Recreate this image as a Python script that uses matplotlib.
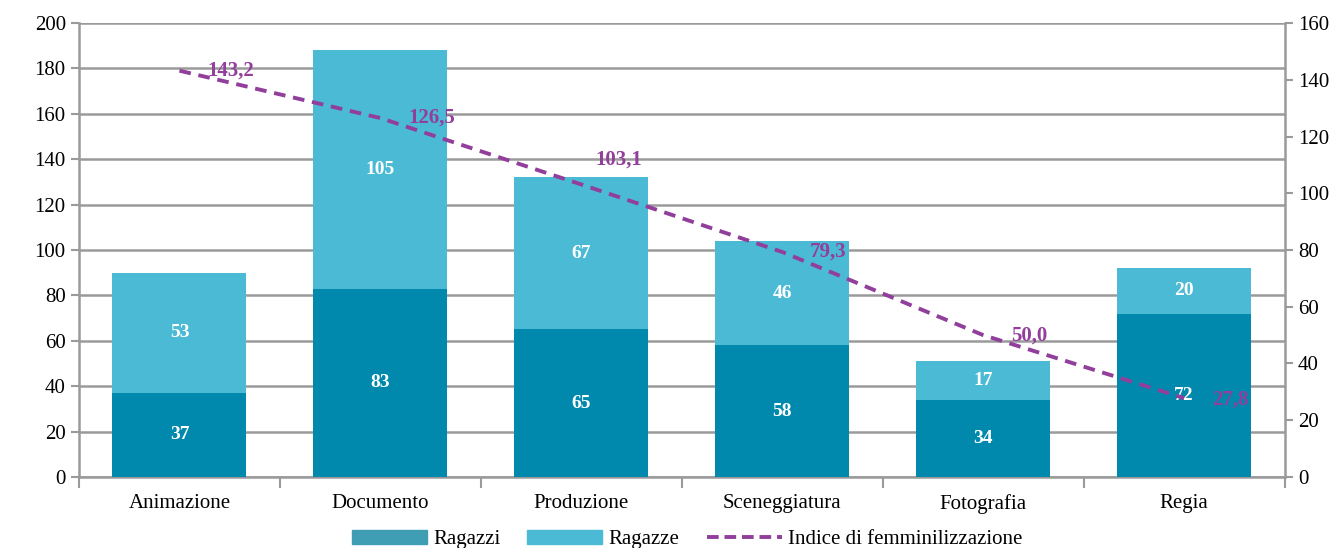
import numpy as np
import matplotlib.pyplot as plt
from matplotlib.patches import Patch
from matplotlib.lines import Line2D

plt.rcParams['font.family'] = ['Liberation Serif', 'DejaVu Serif']

categorie = ["Animazione", "Documento", "Produzione", "Sceneggiatura", "Fotografia", "Regia"]
ragazzi = [37, 83, 65, 58, 34, 72]
ragazze = [53, 105, 67, 46, 17, 20]
indice = [143.2, 126.5, 103.1, 79.3, 50.0, 27.8]

c_ragazzi = "#0089ad"
c_ragazze = "#4bbad4"
c_linea = "#923f9c"
grigio = "#9a9a9a"

fig = plt.figure(figsize=(13.34, 5.48), dpi=100)
ax = fig.add_axes([0.0592, 0.1296, 0.9038, 0.8284])
x = np.arange(len(categorie))

ax.bar(x, ragazzi, width=0.667, color=c_ragazzi, zorder=3)
ax.bar(x, ragazze, width=0.667, bottom=ragazzi, color=c_ragazze, zorder=3)

for xi, a, b in zip(x, ragazzi, ragazze):
    ax.text(xi, a / 2, str(a), ha='center', va='center', color='white',
            fontsize=14, fontweight='bold', zorder=5)
    ax.text(xi, a + b / 2, str(b), ha='center', va='center', color='white',
            fontsize=14, fontweight='bold', zorder=5)

ax.set_xlim(-0.5, len(categorie) - 0.5)
ax.set_ylim(0, 200)
ax.set_yticks(range(0, 201, 20))
ax.yaxis.grid(True, color=grigio, linewidth=1.8, zorder=0)
ax.set_axisbelow(True)

ax.set_xticks(x)
ax.set_xticklabels(categorie, fontsize=15)
ax.set_xticks(np.arange(-0.5, len(categorie), 1), minor=True)
ax.tick_params(axis='x', which='major', length=0, pad=12)
ax.tick_params(axis='x', which='minor', length=8, width=1.5, color=grigio)
ax.tick_params(axis='y', labelsize=15, length=6, width=1.5, color=grigio)

for s in ['top', 'right']:
    ax.spines[s].set_visible(False)
for s in ['left', 'bottom']:
    ax.spines[s].set_color(grigio)
    ax.spines[s].set_linewidth(1.8)

# indice sull'asse secondario
ax2 = ax.twinx()
ax2.set_ylim(0, 160)
ax2.set_yticks(range(0, 161, 20))
ax2.plot(x, indice, color=c_linea, linestyle=(0, (3, 2)), linewidth=2.8, zorder=6)
spost = [(20, 0), (20, 0), (10, 18), (20, 0), (20, 0), (20, -1)]
for xi, v, d in zip(x, indice, spost):
    ax2.annotate(f"{v:.1f}".replace('.', ','), (xi, v), xytext=d,
                 textcoords='offset points', ha='left', va='center',
                 color=c_linea, fontsize=15, fontweight='bold', zorder=7)
ax2.tick_params(axis='y', labelsize=15, length=6, width=1.5, color=grigio)
for s in ['top', 'left', 'bottom']:
    ax2.spines[s].set_visible(False)
ax2.spines['right'].set_color(grigio)
ax2.spines['right'].set_linewidth(1.8)

handles = [Patch(color="#3f9db4"), Patch(color=c_ragazze),
           Line2D([0], [0], color=c_linea, linestyle=(0, (3, 1.5)), linewidth=2.8)]
labels = ["Ragazzi", "Ragazze", "Indice di femminilizzazione"]
fig.legend(handles, labels, loc='center', bbox_to_anchor=(0.515, 0.015), ncol=3,
           frameon=False, fontsize=15, handlelength=3.6, handleheight=0.6,
           columnspacing=1.3, handletextpad=0.3)

fig.savefig("out.png", dpi=100)
